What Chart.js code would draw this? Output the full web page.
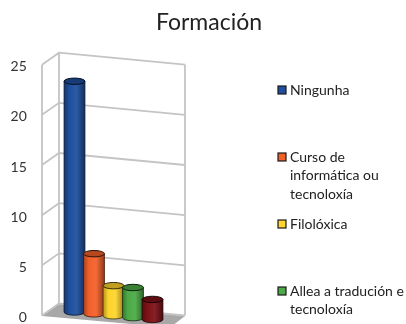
<!DOCTYPE html>
<html>
<head>
<meta charset="utf-8">
<style>
html, body { margin: 0; padding: 0; background: #fff; }
#wrap { position: relative; width: 406px; height: 324px; overflow: hidden; }
</style>
<script src="https://cdn.jsdelivr.net/npm/chart.js@4"></script>
</head>
<body>
<div id="wrap"><canvas id="chart" width="406" height="324"></canvas></div>
<script>
const titleText = 'Formación';
const categories = ['Ningunha', 'Curso de informática ou tecnoloxía', 'Filolóxica', 'Allea a tradución e tecnoloxía', 'Outra'];
const values = [23, 6, 3, 3, 2];
const barColors = ['#1f4f9e', '#f2602a', '#fdd42c', '#4cab46', '#7d1218'];
const yTicks = [0, 5, 10, 15, 20, 25];
const legendLines = [['Ningunha'], ['Curso de', 'informática ou', 'tecnoloxía'], ['Filolóxica'], ['Allea a tradución e', 'tecnoloxía']];
const legendY = [90, 157, 224, 291];

const font = 'Lato, "Open Sans", sans-serif';

function shade(hex, k) {
    const n = parseInt(hex.slice(1), 16);
    const f = c => Math.max(0, Math.min(255, Math.round(k < 0 ? c * (1 + k) : c + (255 - c) * k)));
    return `rgb(${f(n >> 16)},${f((n >> 8) & 255)},${f(n & 255)})`;
}

// back walls and floor, the picture is a fake 3d box
const box3d = {
    id: 'box3d',
    beforeDatasetsDraw(chart) {
        const { ctx, scales: { y } } = chart;
        const zero = y.getPixelForValue(0);
        ctx.save();
        ctx.fillStyle = '#a8a8a8';
        ctx.beginPath();
        ctx.moveTo(59, zero - 13.5);
        ctx.lineTo(185, zero - 1.5);
        ctx.lineTo(170, zero + 10);
        ctx.lineTo(42, zero - 1.5);
        ctx.closePath();
        ctx.fill();

        ctx.strokeStyle = '#c4c4c4';
        ctx.lineWidth = 1.8;
        yTicks.forEach(v => {
            const p = y.getPixelForValue(v);
            ctx.beginPath();
            ctx.moveTo(42, p - 2);
            ctx.lineTo(59, p - 14);
            ctx.lineTo(185, p - 2);
            ctx.stroke();
        });
        const top = y.getPixelForValue(25), bottom = y.getPixelForValue(0);
        [[42, -2], [59, -14], [185, -2]].forEach(([x, d]) => {
            ctx.beginPath();
            ctx.moveTo(x, top + d);
            ctx.lineTo(x, bottom + d);
            ctx.stroke();
        });
        ctx.restore();
    },
    afterDatasetsDraw(chart) {
        const { ctx } = chart;
        const bars = chart.getDatasetMeta(0).data;
        bars.forEach((bar, i) => {
            const color = barColors[i];
            const w = bar.width / 2;
            const shift = (bar.x - bars[0].x) * 0.096 - 5.5;
            const top = bar.y + shift, base = bar.base + shift;
            const ry = 3.2;
            const grad = ctx.createLinearGradient(bar.x - w, 0, bar.x + w, 0);
            grad.addColorStop(0, shade(color, -0.3));
            grad.addColorStop(0.25, color);
            grad.addColorStop(0.6, shade(color, 0.06));
            grad.addColorStop(1, shade(color, -0.4));
            ctx.save();
            ctx.fillStyle = grad;
            ctx.strokeStyle = shade(color, -0.75);
            ctx.lineWidth = 0.8;
            ctx.beginPath();
            ctx.moveTo(bar.x - w, top);
            ctx.lineTo(bar.x - w, base);
            ctx.ellipse(bar.x, base, w, ry, 0, Math.PI, 0, true);
            ctx.lineTo(bar.x + w, top);
            ctx.closePath();
            ctx.fill();
            ctx.stroke();
            ctx.fillStyle = shade(color, -0.25);
            ctx.beginPath();
            ctx.ellipse(bar.x, top, w, ry, 0, 0, Math.PI * 2);
            ctx.fill();
            ctx.lineWidth = 1;
            ctx.strokeStyle = shade(color, -0.8);
            ctx.stroke();
            ctx.restore();
        });
    }
};

// legend rows sit at uneven heights so the built in legend cant do it
const sideText = {
    id: 'sideText',
    afterDraw(chart) {
        const { ctx } = chart;
        ctx.save();
        ctx.textBaseline = 'middle';
        ctx.fillStyle = '#222';
        ctx.font = `23px ${font}`;
        ctx.textAlign = 'center';
        ctx.fillText(titleText, 209, 23);
        ctx.textAlign = 'left';
        ctx.font = `14px ${font}`;
        legendLines.forEach((lines, i) => {
            const y0 = legendY[i];
            ctx.fillStyle = barColors[i];
            ctx.strokeStyle = '#1a1a1a';
            ctx.lineWidth = 1.2;
            ctx.fillRect(278, y0 - 4, 8, 8);
            ctx.strokeRect(278, y0 - 4, 8, 8);
            ctx.fillStyle = '#222';
            lines.forEach((line, j) => ctx.fillText(line, 290, y0 + j * 18.7));
        });
        ctx.restore();
    }
};

new Chart(document.getElementById('chart'), {
    type: 'bar',
    data: {
        labels: categories,
        datasets: [{
            data: values,
            backgroundColor: 'rgba(0,0,0,0)',
            barPercentage: 1,
            categoryPercentage: 1.07
        }]
    },
    options: {
        responsive: false,
        animation: false,
        layout: { padding: { top: 66.7, bottom: 6.5, left: 0, right: 243.75 } },
        plugins: { legend: { display: false }, title: { display: false }, tooltip: { enabled: false } },
        scales: {
            x: { display: false },
            y: {
                min: 0,
                max: 25,
                afterFit(s) { s.width = 64.75; s.paddingTop = 0; s.paddingBottom = 0; },
                border: { display: false },
                grid: { display: false },
                afterBuildTicks(s) { s.ticks = yTicks.map(v => ({ value: v })); },
                ticks: { color: '#333', padding: 30, font: { family: font, size: 14 } }
            }
        }
    },
    plugins: [box3d, sideText]
});
</script>
</body>
</html>
